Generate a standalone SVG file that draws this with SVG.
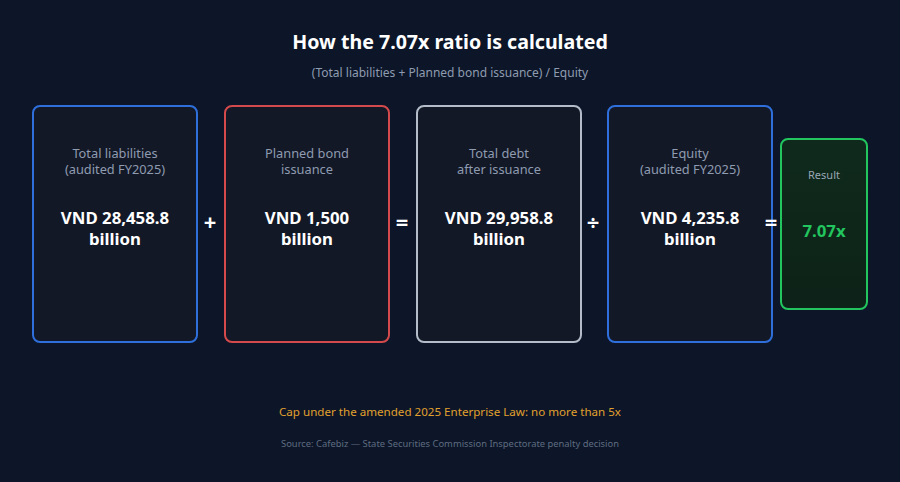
<svg xmlns="http://www.w3.org/2000/svg" width="900" height="482" viewBox="0 0 900 482">
<defs>
<style>
.bg{fill:#0c1628}
.box{fill:#121826;stroke-width:2}
.lbl{font-family:"Noto Sans","Open Sans",sans-serif;font-size:12.8px;fill:#8f9bb0;text-anchor:middle}
.val{font-family:"Noto Sans","Open Sans",sans-serif;font-size:16.8px;font-weight:bold;fill:#ffffff;text-anchor:middle}
.op{font-family:"Noto Sans","Open Sans",sans-serif;font-size:22px;font-weight:bold;fill:#ffffff;text-anchor:middle}
</style>
<linearGradient id="gr" x1="0" y1="0" x2="0" y2="1">
<stop offset="0" stop-color="#0f2a1c"/>
<stop offset="1" stop-color="#0d2218"/>
</linearGradient>
</defs>
<rect class="bg" x="0" y="0" width="900" height="482"/>
<text x="450" y="49" font-family="Noto Sans, Open Sans, sans-serif" font-size="19.6" font-weight="bold" fill="#ffffff" text-anchor="middle">How the 7.07x ratio is calculated</text>
<text x="450" y="77" font-family="Noto Sans, Open Sans, sans-serif" font-size="12" fill="#8f9bb0" text-anchor="middle">(Total liabilities + Planned bond issuance) / Equity</text>

<g id="liabilities">
<rect class="box" x="33" y="106" width="164" height="236" rx="7" stroke="#2f6fdc"/>
<text class="lbl" x="115" y="158">Total liabilities</text>
<text class="lbl" x="115" y="174">(audited FY2025)</text>
<text class="val" x="115" y="224">VND 28,458.8</text>
<text class="val" x="115" y="245">billion</text>
</g>
<g id="bond">
<rect class="box" x="225" y="106" width="164" height="236" rx="7" stroke="#d4494b"/>
<text class="lbl" x="307" y="158">Planned bond</text>
<text class="lbl" x="307" y="174">issuance</text>
<text class="val" x="307" y="224">VND 1,500</text>
<text class="val" x="307" y="245">billion</text>
</g>
<g id="totaldebt">
<rect class="box" x="417" y="106" width="164" height="236" rx="7" stroke="#b3bcc8"/>
<text class="lbl" x="499" y="158">Total debt</text>
<text class="lbl" x="499" y="174">after issuance</text>
<text class="val" x="499" y="224">VND 29,958.8</text>
<text class="val" x="499" y="245">billion</text>
</g>
<g id="equity">
<rect class="box" x="608" y="106" width="164" height="236" rx="7" stroke="#2f6fdc"/>
<text class="lbl" x="690" y="158">Equity</text>
<text class="lbl" x="690" y="174">(audited FY2025)</text>
<text class="val" x="690" y="224">VND 4,235.8</text>
<text class="val" x="690" y="245">billion</text>
</g>
<g id="result">
<rect x="781" y="139" width="86" height="170" rx="7" fill="url(#gr)" stroke="#22c55e" stroke-width="2"/>
<text x="824" y="179" font-family="Noto Sans, Open Sans, sans-serif" font-size="11" fill="#9aa6b6" text-anchor="middle">Result</text>
<text x="824" y="237" font-family="Noto Sans, Open Sans, sans-serif" font-size="16.8" font-weight="bold" fill="#22c55e" text-anchor="middle">7.07x</text>
</g>
<g id="operators">
<text class="op" x="210" y="230">+</text>
<text class="op" x="402" y="230">=</text>
<text class="op" x="593" y="230">÷</text>
<text class="op" x="771" y="230">=</text>
</g>
<text x="450" y="416" font-family="Noto Sans, Open Sans, sans-serif" font-size="11.6" fill="#e2a02e" text-anchor="middle">Cap under the amended 2025 Enterprise Law: no more than 5x</text>
<text x="450" y="447" font-family="Noto Sans, Open Sans, sans-serif" font-size="9.4" fill="#5f6b80" text-anchor="middle">Source: Cafebiz — State Securities Commission Inspectorate penalty decision</text>
</svg>
